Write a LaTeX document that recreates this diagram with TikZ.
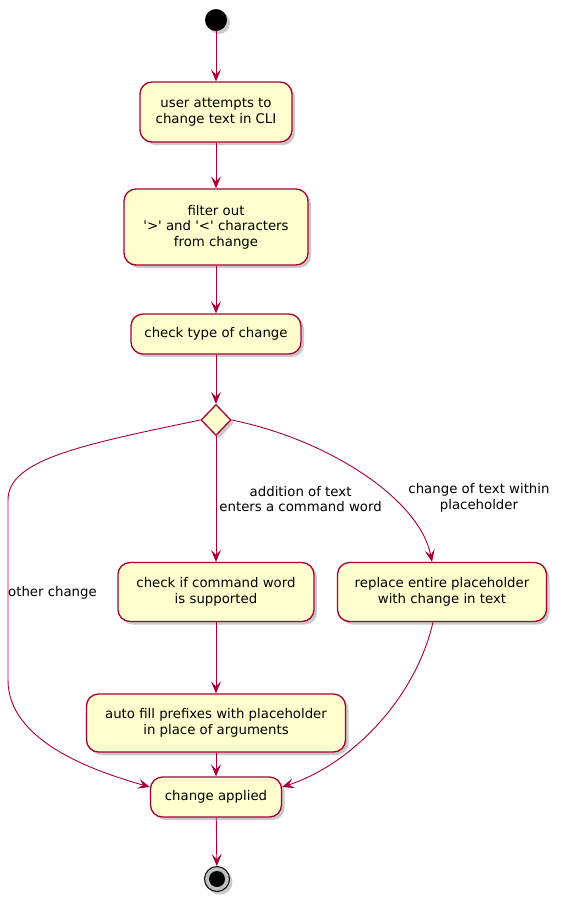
\documentclass[tikz,border=0pt]{standalone}
\usepackage{fontspec}
\setmainfont{DejaVu Sans}
\usetikzlibrary{arrows.meta,shapes.geometric,shadows}
\definecolor{umlred}{HTML}{A80036}
\definecolor{umlfill}{HTML}{FEFECE}

\begin{document}
\begin{tikzpicture}[x=1pt, y=-1pt, font=\fontsize{13.3}{15.5}\selectfont]
		\tikzset{activity/.style = {draw=umlred, fill=umlfill, line width=1.3pt, rounded corners=12pt, align=center, inner sep=0pt,
				drop shadow={shadow xshift=3pt, shadow yshift=-3pt, opacity=0.3, fill=black!70}}}
		\tikzset{choice/.style = {diamond, draw=umlred, fill=umlfill, line width=1.3pt, inner sep=0pt, minimum width=30pt, minimum height=31pt,
				drop shadow={shadow xshift=3pt, shadow yshift=-3pt, opacity=0.3, fill=black!70}}}
		\tikzset{edge/.style = {draw=umlred, line width=0.9pt, -{Stealth[length=12pt, width=10pt, inset=5pt]}}}
		\tikzset{guard/.style = {align=center, inner sep=1pt}}
		
		\useasboundingbox (0,0) rectangle (561,902);
		
		\node[circle, fill=black, minimum size=22pt, inner sep=0pt,
			drop shadow={shadow xshift=3pt, shadow yshift=-3pt, opacity=0.3, fill=black!70}] (0) at (216, 20) {};
		\node[activity, minimum width=152pt, minimum height=60pt] (1) at (216, 112) {user attempts to\\ change text in CLI};
		\node[activity, minimum width=184pt, minimum height=76pt] (2) at (216, 227) {filter out\\ \textquotesingle>\textquotesingle{} and \textquotesingle<\textquotesingle{} characters\\ from change};
		\node[activity, minimum width=170pt, minimum height=40pt] (3) at (216, 334) {check type of change};
		\node[choice] (d) at (216, 420) {};
		\node[activity, minimum width=196pt, minimum height=59pt] (4) at (216, 592) {check if command word\\ is supported};
		\node[activity, minimum width=209pt, minimum height=59pt] (5) at (442, 592) {replace entire placeholder\\ with change in text};
		\node[activity, minimum width=259pt, minimum height=58pt] (6) at (216, 723) {auto fill prefixes with placeholder\\ in place of arguments};
		\node[activity, minimum width=131pt, minimum height=40pt] (7) at (216, 797) {change applied};
		\node[circle, draw=black, fill=black!25, line width=1pt, minimum size=25pt, inner sep=0pt,
			drop shadow={shadow xshift=3pt, shadow yshift=-3pt, opacity=0.3, fill=black!70}] (8) at (217, 879) {};
		\node[circle, fill=black, minimum size=16pt, inner sep=0pt] (9) at (8) {};
		
		\coordinate (l1) at (8, 500);
		\coordinate (l2) at (8, 680);
		\coordinate (a1) at ([yshift=10pt]7.west);
		\coordinate (a2) at ([yshift=10pt]7.east);
		
		\draw[edge] (0) -- (1);
		\draw[edge] (1) -- (2);
		\draw[edge] (2) -- (3);
		\draw[edge] (3) -- (d);
		\draw[edge] (d) -- node[guard, right, xshift=2pt] {addition of text\\ enters a command word} (4);
		\draw[edge] (d.east) .. controls (330, 440) and (420, 500) .. (5.north -| 432, 0);
		\draw[edge] (d.west) .. controls (80, 445) and (8, 460) .. (l1) -- (l2)
			.. controls (8, 740) and (90, 770) .. (a1);
		\draw[edge] (4) -- (6);
		\draw[edge] (6) -- (7);
		\draw[edge] (5.south -| 433, 0) .. controls (415, 700) and (350, 765) .. (a2);
		\draw[edge] (7) -- (8);
		
		\node[guard] (g1) at (479, 498) {change of text within\\ placeholder};
		\node[guard, anchor=west] (g2) at (7, 593) {other change};
\end{tikzpicture}
\end{document}
